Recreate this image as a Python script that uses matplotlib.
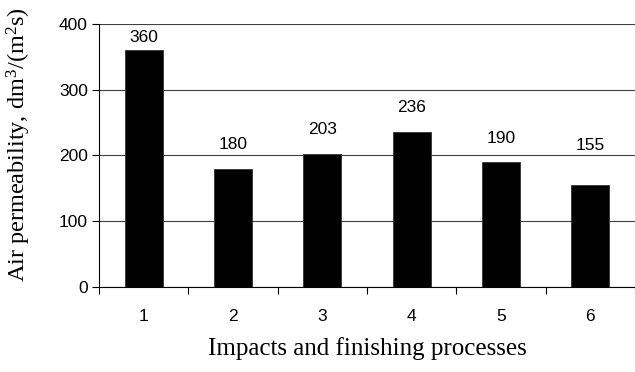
import matplotlib
matplotlib.use("Agg")
import matplotlib.pyplot as plt

categories = ["1", "2", "3", "4", "5", "6"]
values = [360, 180, 203, 236, 190, 155]
y_ticks = [0, 100, 200, 300, 400]

# distance (px) from bar top to the centre of its value label, as in the original
label_gap_px = [13, 24, 24, 24, 24, 40]

plt.rcParams["mathtext.fontset"] = "custom"
plt.rcParams["mathtext.rm"] = "Liberation Serif"

fig = plt.figure(figsize=(6.35, 3.72), dpi=100)
ax = fig.add_axes([0.156, 0.2285, 0.844, 0.707])

x = list(range(len(categories)))
ax.bar(x, values, width=0.425, color="black", edgecolor="#333333", linewidth=0.6, zorder=3)

for xi, v, gap in zip(x, values, label_gap_px):
    ax.annotate(str(v), (xi, v), xytext=(0, gap * 0.72), textcoords="offset points",
                ha="center", va="center", fontsize=12.5, family="Liberation Sans")

ax.set_xlim(-0.5, len(categories) - 0.5)
ax.set_ylim(0, 400)
ax.set_yticks(y_ticks)
ax.set_xticks(x)
ax.set_xticklabels(categories)
ax.set_xticks([i - 0.5 for i in range(len(categories) + 1)], minor=True)
ax.tick_params(axis="x", which="major", length=0, pad=16)
ax.tick_params(axis="x", which="minor", length=5, width=0.8, direction="out")
ax.tick_params(axis="y", length=5, width=0.8, direction="out", pad=3)
for lab in ax.get_xticklabels() + ax.get_yticklabels():
    lab.set_family("Liberation Sans")
    lab.set_fontsize(12.5)

ax.yaxis.grid(True, color="#404040", linewidth=0.8, zorder=0)
ax.set_axisbelow(True)
for s in ["top", "right"]:
    ax.spines[s].set_visible(False)
ax.spines["left"].set_linewidth(0.8)
ax.spines["bottom"].set_linewidth(0.8)

ax.set_ylabel("Air permeability, dm$\\mathregular{^3}$/(m$\\mathregular{^2}$s)",
              family="Liberation Serif", fontsize=17.5)
ax.yaxis.set_label_coords(-0.123, 0.54)
ax.set_xlabel("Impacts and finishing processes", family="Liberation Serif",
              fontsize=18, labelpad=9)

fig.savefig("out.png", dpi=100, facecolor="white")
